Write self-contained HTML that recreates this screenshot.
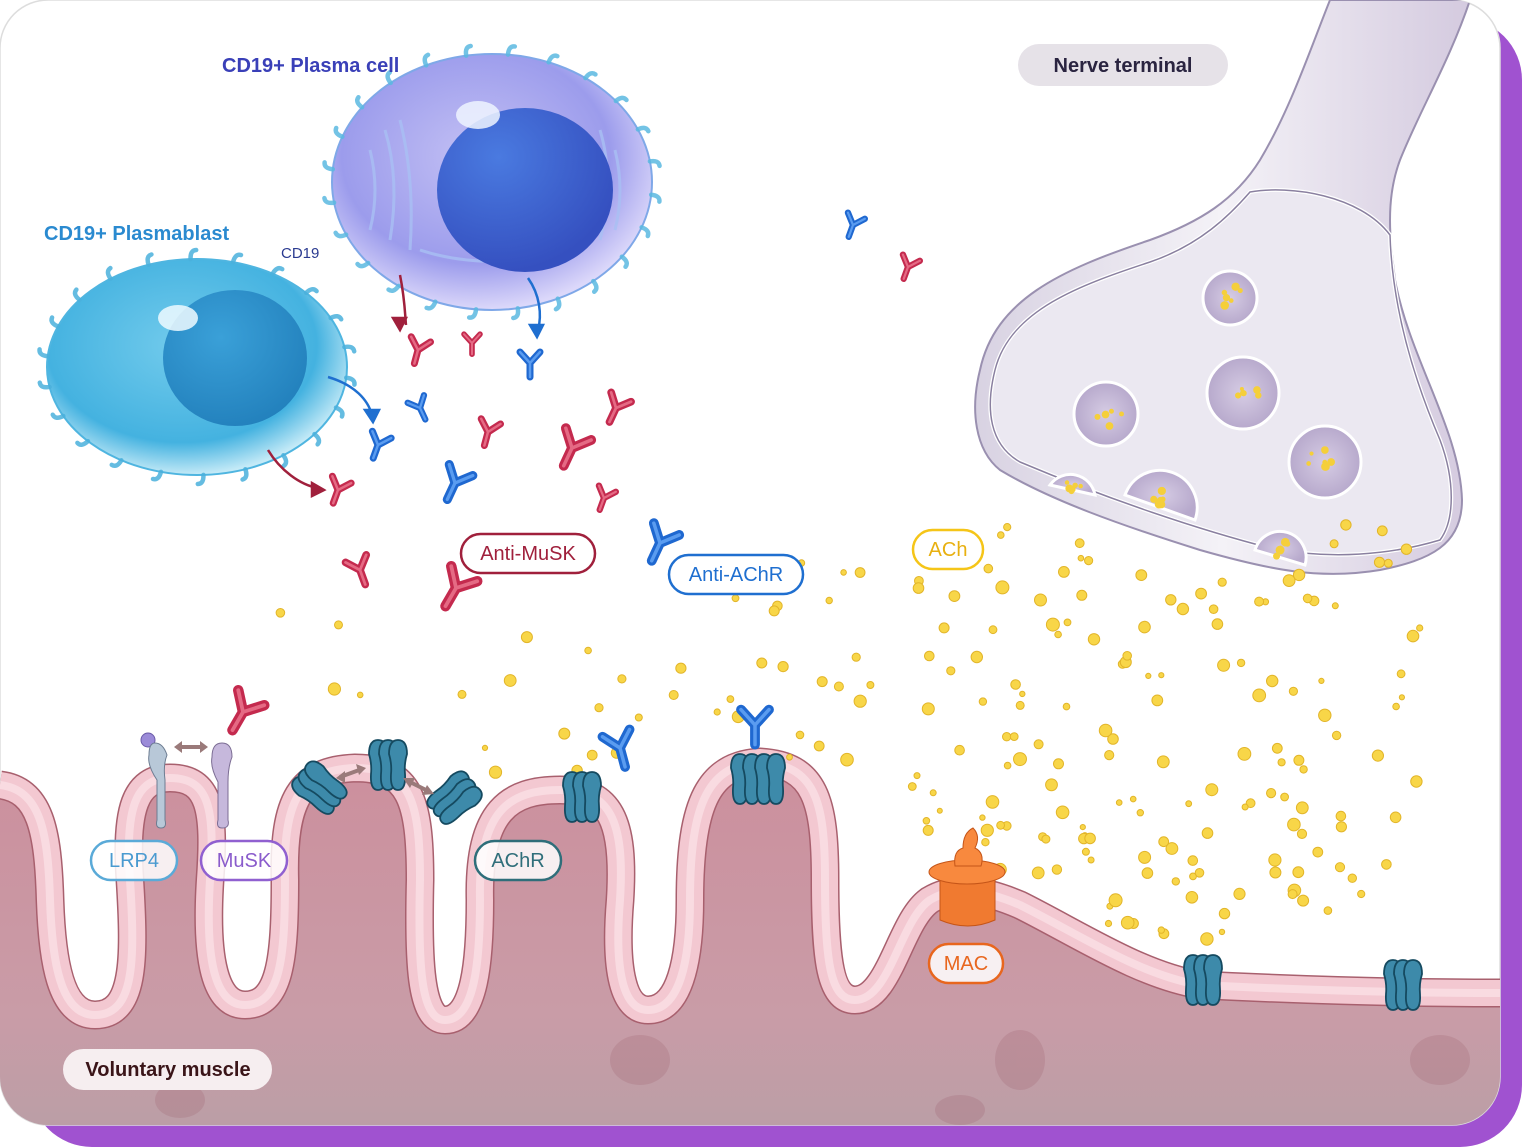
<!DOCTYPE html>
<html><head><meta charset="utf-8"><style>
html,body{margin:0;padding:0;background:#fff}
svg{display:block}
text{font-family:"Liberation Sans",sans-serif}
</style></head><body>
<svg id="s" width="1522" height="1147" viewBox="0 0 1522 1147" xmlns="http://www.w3.org/2000/svg">
<defs>
<radialGradient id="pc" cx="0.45" cy="0.4" r="0.6"><stop offset="0" stop-color="#c3c0f4"/><stop offset="0.7" stop-color="#9c9cec"/><stop offset="1" stop-color="#dcd8fa"/></radialGradient>
<radialGradient id="pcn" cx="0.35" cy="0.3" r="0.7"><stop offset="0" stop-color="#4a7ae0"/><stop offset="1" stop-color="#3550c0"/></radialGradient>
<radialGradient id="pb" cx="0.45" cy="0.4" r="0.6"><stop offset="0" stop-color="#72cbec"/><stop offset="0.75" stop-color="#44b2e0"/><stop offset="1" stop-color="#c4eaf7"/></radialGradient>
<radialGradient id="pbn" cx="0.4" cy="0.35" r="0.7"><stop offset="0" stop-color="#3aa0d8"/><stop offset="1" stop-color="#2280bc"/></radialGradient>
<linearGradient id="mus" x1="0" y1="0" x2="0" y2="1"><stop offset="0" stop-color="#cc8f9d"/><stop offset="0.7" stop-color="#c99ca7"/><stop offset="1" stop-color="#bb9ea6"/></linearGradient>
<linearGradient id="ax" x1="0" y1="0" x2="1" y2="0"><stop offset="0" stop-color="#d8d2e2"/><stop offset="0.5" stop-color="#f4f2f7"/><stop offset="1" stop-color="#d4cadf"/></linearGradient>
<radialGradient id="ves" cx="0.5" cy="0.5" r="0.5"><stop offset="0" stop-color="#d6cce4"/><stop offset="1" stop-color="#b7a9cc"/></radialGradient>
<clipPath id="card"><rect x="0" y="0" width="1500" height="1125" rx="48"/></clipPath>
<path id="mp" d="M0,785 C40,790 48,830 50,900 C52,960 60,1015 95,1015 C135,1015 135,960 130,880 C125,810 135,778 170,778 C210,778 215,810 210,880 C205,960 215,1005 245,1005 C280,1005 285,960 285,880 C283,800 300,770 355,768 C410,768 420,800 420,880 C418,960 420,1020 445,1020 C475,1020 480,960 480,900 C478,810 510,790 560,790 C610,790 625,820 620,900 C615,960 620,1010 648,1010 C680,1010 690,960 690,900 C690,800 710,765 760,762 C815,765 825,800 825,880 C825,960 830,1000 855,1000 C890,1000 900,920 930,900 C955,885 985,890 1020,905 C1080,935 1140,975 1200,985 C1300,990 1400,993 1500,993"/>
</defs>
<rect x="30" y="18" width="1492" height="1129" rx="62" fill="#a052d0"/>
<rect x="0" y="0" width="1500" height="1125" rx="48" fill="#fff" stroke="#ddd" stroke-width="1.5"/>
<g clip-path="url(#card)">
<path fill="url(#mus)" d="M0,785 C40,790 48,830 50,900 C52,960 60,1015 95,1015 C135,1015 135,960 130,880 C125,810 135,778 170,778 C210,778 215,810 210,880 C205,960 215,1005 245,1005 C280,1005 285,960 285,880 C283,800 300,770 355,768 C410,768 420,800 420,880 C418,960 420,1020 445,1020 C475,1020 480,960 480,900 C478,810 510,790 560,790 C610,790 625,820 620,900 C615,960 620,1010 648,1010 C680,1010 690,960 690,900 C690,800 710,765 760,762 C815,765 825,800 825,880 C825,960 830,1000 855,1000 C890,1000 900,920 930,900 C955,885 985,890 1020,905 C1080,935 1140,975 1200,985 C1300,990 1400,993 1500,993 L1500,1125 L0,1125 Z"/>
<g opacity="0.22" fill="#9a5a6a"><ellipse cx="640" cy="1060" rx="30" ry="25"/><ellipse cx="1020" cy="1060" rx="25" ry="30"/><ellipse cx="1440" cy="1060" rx="30" ry="25"/><ellipse cx="180" cy="1100" rx="25" ry="18"/><ellipse cx="960" cy="1110" rx="25" ry="15"/></g>
<use href="#mp" fill="none" stroke="#a8606e" stroke-width="29"/>
<use href="#mp" fill="none" stroke="#f3c8d1" stroke-width="26"/>
<use href="#mp" fill="none" stroke="#fbe3e8" stroke-width="8" opacity="0.7"/>
<path d="M1330,0 L1470,0 C1450,60 1420,110 1400,160 C1385,200 1390,240 1395,280 C1410,360 1460,430 1462,500 C1462,545 1430,560 1380,570 C1320,580 1270,570 1200,550 C1120,525 1050,500 1000,470 C975,450 970,410 980,370 C995,300 1060,270 1150,240 C1200,222 1235,200 1260,160 C1290,110 1310,50 1330,0 Z" fill="url(#ax)" stroke="#9a90b0" stroke-width="2"/>
<path d="M1250,192 C1290,185 1360,195 1390,235 C1392,300 1410,370 1440,440 C1455,480 1455,520 1440,540 C1390,555 1330,560 1270,548 C1200,530 1110,500 1020,462 C990,445 985,410 995,370 C1010,310 1080,285 1150,262 C1200,245 1230,215 1250,192 Z" fill="#ebe8f1" stroke="#fff" stroke-width="4"/>
<path d="M1250,192 C1290,185 1360,195 1390,235 C1392,300 1410,370 1440,440 C1455,480 1455,520 1440,540 C1390,555 1330,560 1270,548 C1200,530 1110,500 1020,462 C990,445 985,410 995,370 C1010,310 1080,285 1150,262 C1200,245 1230,215 1250,192 Z" fill="none" stroke="#8a80a0" stroke-width="1.5"/>
<g stroke="#fff" stroke-width="3" fill="url(#ves)">
<circle cx="1230" cy="298" r="27"/><circle cx="1243" cy="393" r="36"/><circle cx="1106" cy="414" r="32"/><circle cx="1325" cy="462" r="36"/>
<path d="M1050,485 A25,25 0 0 1 1095,495 Z"/><path d="M1125,495 A37,37 0 0 1 1195,520 Z"/><path d="M1255,550 A25,25 0 0 1 1305,565 Z"/>
</g>
<g id="vdots" fill="#f5cf3a"></g>
<g id="dots" fill="#f8d648" stroke="#e2b52a" stroke-width="1"></g>
</g>
<g>
<ellipse cx="492" cy="182" rx="160" ry="128" fill="url(#pc)" stroke="#7fa8e8" stroke-width="2"/>
<g stroke="#a9c0f4" stroke-width="3" fill="none" opacity="0.8"><path d="M370,150 q10,40 0,80"/><path d="M385,130 q15,50 5,110"/><path d="M400,120 q15,60 10,130"/><path d="M600,130 q15,50 0,110"/><path d="M615,150 q10,40 0,80"/><path d="M420,250 q60,20 140,5"/></g>
<ellipse cx="525" cy="190" rx="88" ry="82" fill="url(#pcn)"/>
<ellipse cx="478" cy="115" rx="22" ry="14" fill="#eef4ff" opacity="0.85"/>
</g>
<g>
<ellipse cx="197" cy="367" rx="150" ry="108" fill="url(#pb)" stroke="#4fb5e0" stroke-width="2"/>
<ellipse cx="235" cy="358" rx="72" ry="68" fill="url(#pbn)"/>
<ellipse cx="178" cy="318" rx="20" ry="13" fill="#eefaff" opacity="0.85"/>
</g>
<g id="cd19" fill="none" stroke-linecap="round"></g>
<g fill="none" stroke-width="2.5">
<path d="M400,275 C405,300 405,315 406,325" stroke="#a0203c"/><path d="M400,330 l-7,-12 h13z" fill="#a0203c" stroke="#a0203c"/>
<path d="M528,278 C540,295 542,315 538,330" stroke="#1f6fd0"/><path d="M537,337 l-7,-12 h13z" fill="#1f6fd0" stroke="#1f6fd0"/>
<path d="M328,377 C355,385 368,400 372,415" stroke="#1f6fd0"/><path d="M373,422 l-8,-12 h14z" fill="#1f6fd0" stroke="#1f6fd0"/>
<path d="M268,450 C280,470 300,485 318,488" stroke="#a0203c"/><path d="M324,490 l-12,-7 v13z" fill="#a0203c" stroke="#a0203c"/>
</g>
<g id="abs"></g>
<g id="recs"></g>
<g>
<circle cx="148" cy="740" r="7" fill="#9b8bd8" stroke="#6a5aa8"/>
<path d="M155,743 q8,0 12,12 q-4,10 -2,25 v40 q2,8 -4,8 q-6,0 -4,-8 v-40 q-10,-15 -8,-25 q0,-12 6,-12z" fill="#b8c8d8" stroke="#6d7d92"/>
<path d="M222,743 q10,0 10,14 q-4,10 -4,25 v38 q2,8 -6,8 q-6,0 -4,-8 v-38 q-8,-15 -6,-25 q0,-14 10,-14z" fill="#c6b8dc" stroke="#7c6d94"/>
<path d="M177,747 h28" stroke="#9a7a7a" stroke-width="4"/><path d="M174,747 l8,-6 v12z M208,747 l-8,-6 v12z" fill="#9a7a7a"/>
<path d="M340,777 l22,-8" stroke="#9a7a7a" stroke-width="4"/><path d="M336,778 l9,-7 v12z M366,768 l-10,-4 l3,11z" fill="#9a7a7a"/>
<path d="M406,780 l24,12" stroke="#9a7a7a" stroke-width="4"/><path d="M403,778 l12,0 l-5,10z M434,794 l-12,1 l5,-10z" fill="#9a7a7a"/>
</g>
<g>
<path d="M940,880 h55 v40 q-27,12 -55,0z" fill="#f07a30" stroke="#c55518"/>
<ellipse cx="967" cy="872" rx="38" ry="12" fill="#f8893e" stroke="#c55518"/>
<path d="M955,866 q-2,-15 8,-18 q0,-15 10,-20 q8,8 2,20 q10,5 6,18z" fill="#f8893e" stroke="#c55518"/>
</g>
<g font-size="20">
<rect x="1018" y="44" width="210" height="42" rx="21" fill="#e6e2e8"/>
<text x="1123" y="72" text-anchor="middle" fill="#2a2440" font-weight="bold" font-size="20">Nerve terminal</text>
<text x="222" y="72" fill="#3a40b8" font-weight="bold">CD19+ Plasma cell</text>
<text x="44" y="240" fill="#2a8ad0" font-weight="bold">CD19+ Plasmablast</text>
<text x="281" y="258" fill="#2a3a90" font-size="15">CD19</text>
<rect x="461" y="534" width="134" height="39" rx="19.5" fill="#fff" stroke="#a0203c" stroke-width="2.5"/>
<text x="528" y="560" text-anchor="middle" fill="#a0203c">Anti-MuSK</text>
<rect x="669" y="555" width="134" height="39" rx="19.5" fill="#fff" stroke="#1f6fd0" stroke-width="2.5"/>
<text x="736" y="581" text-anchor="middle" fill="#1f6fd0">Anti-AChR</text>
<rect x="913" y="530" width="70" height="39" rx="19.5" fill="#fff" stroke="#f5c518" stroke-width="2.5"/>
<text x="948" y="556" text-anchor="middle" fill="#e8b010">ACh</text>
<rect x="91" y="841" width="86" height="39" rx="19.5" fill="#fff" fill-opacity="0.85" stroke="#5aaad8" stroke-width="2.5"/>
<text x="134" y="867" text-anchor="middle" fill="#4a9ad0">LRP4</text>
<rect x="201" y="841" width="86" height="39" rx="19.5" fill="#fff" fill-opacity="0.85" stroke="#9060d0" stroke-width="2.5"/>
<text x="244" y="867" text-anchor="middle" fill="#8a5ccc">MuSK</text>
<rect x="475" y="841" width="86" height="39" rx="19.5" fill="#fff" fill-opacity="0.85" stroke="#2f6e7a" stroke-width="2.5"/>
<text x="518" y="867" text-anchor="middle" fill="#2f6e7a">AChR</text>
<rect x="929" y="944" width="74" height="39" rx="19.5" fill="#fff" fill-opacity="0.85" stroke="#e8661e" stroke-width="2.5"/>
<text x="966" y="970" text-anchor="middle" fill="#e8661e">MAC</text>
<rect x="63" y="1049" width="209" height="41" rx="20.5" fill="#f6eef0"/>
<text x="168" y="1076" text-anchor="middle" fill="#3a1418" font-weight="bold">Voluntary muscle</text>
</g>
</svg>
<script>
var NS="http://www.w3.org/2000/svg";
function el(p,t,a){var e=document.createElementNS(NS,t);for(var k in a)e.setAttribute(k,a[k]);p.appendChild(e);return e;}
var seed=7;function r(){seed=(seed*16807)%2147483647;return seed/2147483647;}
var dots=document.getElementById('dots');
var n=0,tries=0;while(n<200&&tries<20000){tries++;var x=270+r()*1160,y=520+r()*430;
 var ok=true;
 if(y<560&&x<980)ok=false;
 if(x<700&&y<610)ok=false;
 if(x<450&&y>740)ok=false;
 if(x<900&&y>790)ok=false;
 if(y>880&&x<1100)ok=false;
 if(x>1420)ok=false;
 if(x>1000&&y<600&&x<1300&&(y-470)<(x-1000)*0.35)ok=false;
 if(r()> (x-150)/900)ok=false;
 if(ok){el(dots,'circle',{cx:x.toFixed(1),cy:y.toFixed(1),r:(2.5+r()*4).toFixed(1)});n++;}}
var vd=document.getElementById('vdots');
[[1230,298,22],[1243,393,30],[1106,414,26],[1325,462,30],[1072,488,15],[1160,505,25],[1280,550,18]].forEach(function(v){for(var i=0;i<6;i++){var a=r()*6.28,d=r()*v[2]*0.6;el(vd,'circle',{cx:v[0]+Math.cos(a)*d,cy:v[1]+Math.sin(a)*d,r:2+r()*2.5});}});
var cd=document.getElementById('cd19');
function spikes(cx,cy,rx,ry,k,col){for(var i=0;i<k;i++){var a=i/k*6.283+0.1;var x=cx+Math.cos(a)*rx,y=cy+Math.sin(a)*ry;var x2=cx+Math.cos(a)*(rx+9),y2=cy+Math.sin(a)*(ry+9);
 el(cd,'path',{d:'M'+x+','+y+' Q'+x2+','+y2+' '+(x2+Math.cos(a+1.6)*6)+','+(y2+Math.sin(a+1.6)*6),stroke:col,'stroke-width':4.5,opacity:0.85});}}
spikes(492,182,160,128,24,'#5ab8e0');spikes(197,367,150,108,22,'#4ab0dc');
var abs=document.getElementById('abs');
function ab(x,y,s,rot,col,lt){var g=el(abs,'g',{transform:'translate('+x+','+y+') rotate('+rot+') scale('+s+')'});
 var d='M0,0 L0,14 M0,0 L-10,-11 M0,0 L10,-11';
 el(g,'path',{d:d,stroke:col,'stroke-width':7,fill:'none','stroke-linecap':'round'});
 el(g,'path',{d:d,stroke:lt,'stroke-width':2.5,fill:'none','stroke-linecap':'round'});}
var R='#c42a4e',RL='#e56a84',B='#1f68d0',BL='#5a9cf0';
[[418,350,1,15],[472,343,0.8,0],[338,490,1,20],[488,432,1,15],[572,448,1.4,25],[616,408,1.1,25],[604,498,0.9,20],[360,570,1.1,-20],[456,588,1.5,30],[908,267,0.9,20],[243,712,1.5,30]].forEach(function(a){ab(a[0],a[1],a[2],a[3],R,RL);});
[[530,363,1,0],[420,408,0.9,-25],[378,445,1,20],[455,483,1.3,25],[660,543,1.4,25],[853,225,0.9,20],[620,748,1.4,-15],[755,725,1.4,0]].forEach(function(a){ab(a[0],a[1],a[2],a[3],B,BL);});
var rc=document.getElementById('recs');
function rec(x,y,rot,s,k){var g=el(rc,'g',{transform:'translate('+x+','+y+') rotate('+rot+') scale('+(s||1)+')'});
 var xs=k==4?[-18,-6,6,18]:[-10,0,10];
 xs.forEach(function(dx){el(g,'path',{d:'M'+dx+',-28 q9,0 9,14 q-3,10 -2,20 q1,16 -7,16 q-8,0 -7,-16 q1,-10 -2,-20 q0,-14 9,-14z',fill:'#3d8aaa',stroke:'#154a60','stroke-width':1.8});});}
rec(322,790,-50,1,3);rec(388,768,0,1,3);rec(452,800,50,1,3);rec(582,800,0,1,3);rec(758,782,0,1,4);rec(1203,983,0,1,3);rec(1403,988,0,1,3);
</script>
</body></html>
